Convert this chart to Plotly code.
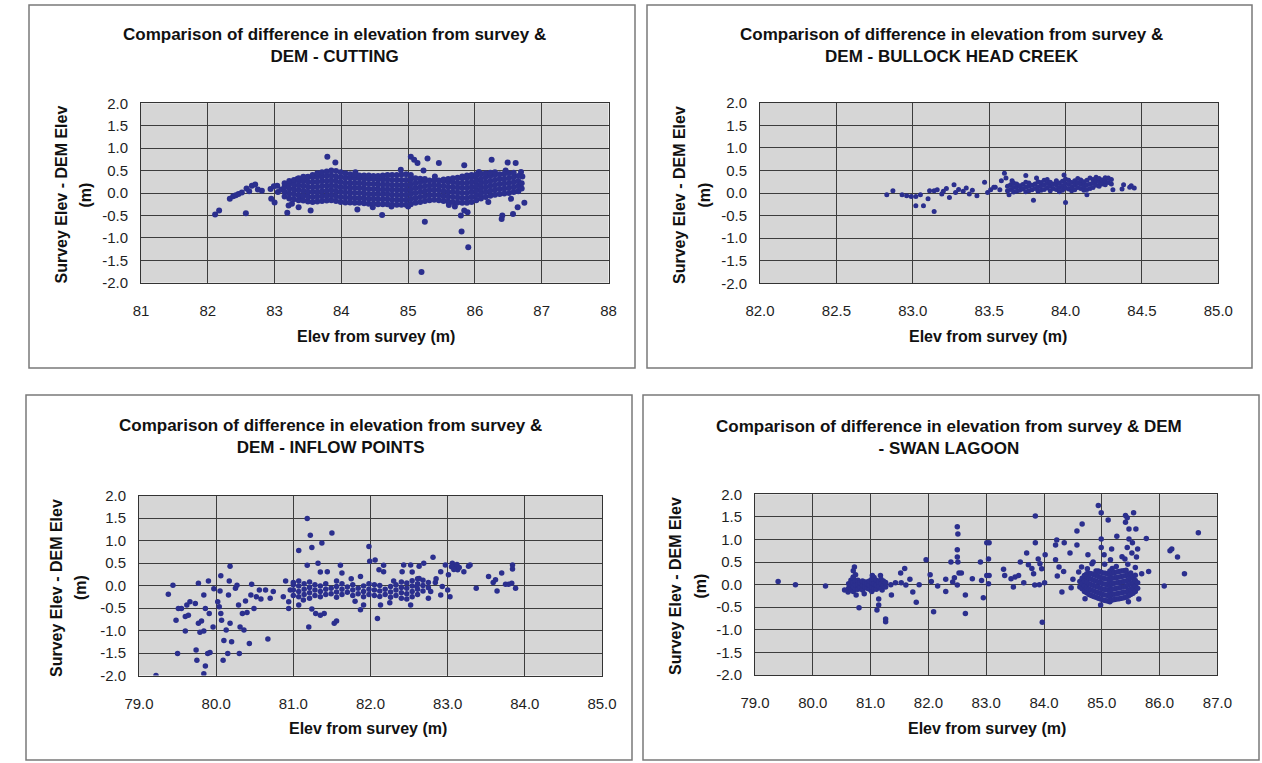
import plotly.graph_objects as go

# ---------------- data ----------------
y_tick_vals = [-2.0, -1.5, -1.0, -0.5, 0.0, 0.5, 1.0, 1.5, 2.0]
y_tick_text = ["-2.0", "-1.5", "-1.0", "-0.5", "0.0", "0.5", "1.0", "1.5", "2.0"]

cut_ticks = [81, 82, 83, 84, 85, 86, 87, 88]
cut_tick_text = ["81", "82", "83", "84", "85", "86", "87", "88"]
bul_ticks = [82.0, 82.5, 83.0, 83.5, 84.0, 84.5, 85.0]
bul_tick_text = ["82.0", "82.5", "83.0", "83.5", "84.0", "84.5", "85.0"]
inf_ticks = [79, 80, 81, 82, 83, 84, 85]
inf_tick_text = ["79.0", "80.0", "81.0", "82.0", "83.0", "84.0", "85.0"]
swa_ticks = [79, 80, 81, 82, 83, 84, 85, 86, 87]
swa_tick_text = ["79.0", "80.0", "81.0", "82.0", "83.0", "84.0", "85.0", "86.0", "87.0"]

titles = [
    "Comparison of difference in elevation from survey &<br>DEM - CUTTING",
    "Comparison of difference in elevation from survey &<br>DEM - BULLOCK HEAD CREEK",
    "Comparison of difference in elevation from survey &<br>DEM - INFLOW POINTS",
    "Comparison of difference in elevation from survey & DEM<br>- SWAN LAGOON",
]
x_title = "Elev from survey (m)"
y_title_line1 = "Survey Elev - DEM Elev"
y_title_line2 = "(m)"

# CUTTING: scattered points (elev, diff)
cut_points = [
    (82.11, -0.48), (82.17, -0.39), (82.57, -0.45), (82.33, -0.13), (82.38, -0.07),
    (82.42, -0.05), (82.46, -0.02), (82.51, 0.01), (82.58, 0.10), (82.62, 0.04),
    (82.66, 0.16), (82.71, 0.19), (82.81, 0.05), (82.75, 0.08), (82.94, 0.09),
    (82.99, 0.15), (83.04, 0.16), (82.95, -0.13), (83.00, -0.21), (83.19, -0.44),
    (83.21, -0.28), (83.26, -0.24), (83.36, -0.32), (83.39, -0.10), (83.54, -0.39),
    (83.79, 0.81), (83.91, 0.68), (84.24, -0.37), (84.47, -0.32), (83.34, 0.31),
    (83.49, 0.35), (83.64, 0.42), (84.21, 0.46), (83.05, 0.02), (83.10, 0.08),
    (85.04, 0.81), (85.09, 0.74), (85.14, 0.67), (85.29, 0.77), (85.46, 0.67),
    (85.84, 0.62), (86.25, 0.74), (86.49, 0.68), (86.61, 0.67), (86.69, 0.47),
    (86.71, 0.37), (86.74, -0.22), (86.64, -0.32), (86.57, -0.47), (86.41, -0.50),
    (86.40, -0.58), (86.54, -0.13), (85.25, -0.64), (84.61, -0.49), (85.80, -0.86),
    (85.90, -1.21), (85.20, -1.76), (85.79, -0.50), (85.84, -0.39), (85.89, -0.43),
    (85.61, -0.27), (85.40, 0.37), (84.89, 0.52), (85.23, 0.50), (86.06, 0.47),
    (86.46, 0.50), (84.75, -0.30), (85.00, -0.30), (85.70, -0.30), (86.20, -0.20),
]
# CUTTING: dense band, read column by column (elev, [diffs])
cut_band = [
    (83.15, [-0.08, 0.03, 0.14, 0.22]),
    (83.22, [-0.12, -0.01, 0.10, 0.20, 0.27]),
    (83.29, [-0.14, -0.03, 0.08, 0.19, 0.29]),
    (83.36, [-0.16, -0.05, 0.06, 0.17, 0.27, 0.33]),
    (83.43, [-0.17, -0.06, 0.05, 0.16, 0.27, 0.36]),
    (83.50, [-0.19, -0.08, 0.03, 0.14, 0.25, 0.36]),
    (83.57, [-0.20, -0.09, 0.02, 0.13, 0.24, 0.35, 0.40]),
    (83.64, [-0.19, -0.08, 0.03, 0.14, 0.25, 0.36, 0.44]),
    (83.71, [-0.18, -0.07, 0.04, 0.15, 0.26, 0.37, 0.46]),
    (83.78, [-0.17, -0.06, 0.05, 0.16, 0.27, 0.38, 0.48]),
    (83.85, [-0.16, -0.05, 0.06, 0.17, 0.28, 0.39, 0.50]),
    (83.92, [-0.18, -0.07, 0.04, 0.15, 0.26, 0.37, 0.49]),
    (83.99, [-0.20, -0.09, 0.02, 0.13, 0.24, 0.35, 0.46]),
    (84.06, [-0.21, -0.10, 0.01, 0.12, 0.23, 0.34, 0.44]),
    (84.13, [-0.21, -0.10, 0.01, 0.12, 0.23, 0.34, 0.42]),
    (84.20, [-0.22, -0.11, 0.00, 0.11, 0.22, 0.33, 0.40]),
    (84.27, [-0.22, -0.11, 0.00, 0.11, 0.22, 0.33, 0.39]),
    (84.34, [-0.23, -0.12, -0.01, 0.10, 0.21, 0.32, 0.39]),
    (84.41, [-0.24, -0.13, -0.02, 0.09, 0.20, 0.31, 0.39]),
    (84.48, [-0.24, -0.13, -0.02, 0.09, 0.20, 0.31, 0.38]),
    (84.55, [-0.25, -0.14, -0.03, 0.08, 0.19, 0.30, 0.38]),
    (84.62, [-0.25, -0.14, -0.03, 0.08, 0.19, 0.30, 0.39]),
    (84.69, [-0.25, -0.14, -0.03, 0.08, 0.19, 0.30, 0.40]),
    (84.76, [-0.26, -0.15, -0.04, 0.07, 0.18, 0.29, 0.40]),
    (84.83, [-0.26, -0.15, -0.04, 0.07, 0.18, 0.29, 0.40]),
    (84.90, [-0.26, -0.15, -0.04, 0.07, 0.18, 0.29, 0.41]),
    (84.97, [-0.26, -0.15, -0.04, 0.07, 0.18, 0.29, 0.42]),
    (85.04, [-0.25, -0.14, -0.03, 0.08, 0.19, 0.30, 0.40]),
    (85.11, [-0.22, -0.11, 0.00, 0.11, 0.22, 0.33]),
    (85.18, [-0.20, -0.09, 0.02, 0.13, 0.24, 0.32]),
    (85.25, [-0.18, -0.07, 0.04, 0.15, 0.26, 0.31]),
    (85.32, [-0.16, -0.05, 0.06, 0.17, 0.28]),
    (85.39, [-0.15, -0.04, 0.07, 0.18, 0.28]),
    (85.46, [-0.16, -0.05, 0.06, 0.17, 0.28]),
    (85.53, [-0.18, -0.07, 0.04, 0.15, 0.26, 0.30]),
    (85.60, [-0.19, -0.08, 0.03, 0.14, 0.25, 0.31]),
    (85.67, [-0.20, -0.09, 0.02, 0.13, 0.24, 0.33]),
    (85.74, [-0.21, -0.10, 0.01, 0.12, 0.23, 0.34]),
    (85.81, [-0.22, -0.11, 0.00, 0.11, 0.22, 0.33, 0.37]),
    (85.88, [-0.22, -0.11, 0.00, 0.11, 0.22, 0.33, 0.39]),
    (85.95, [-0.20, -0.09, 0.02, 0.13, 0.24, 0.35, 0.40]),
    (86.02, [-0.16, -0.05, 0.06, 0.17, 0.28, 0.39, 0.42]),
    (86.09, [-0.12, -0.01, 0.10, 0.21, 0.32, 0.43]),
    (86.16, [-0.09, 0.02, 0.13, 0.24, 0.35, 0.44]),
    (86.23, [-0.06, 0.05, 0.16, 0.27, 0.38, 0.45]),
    (86.30, [-0.04, 0.07, 0.18, 0.29, 0.40, 0.46]),
    (86.37, [-0.02, 0.09, 0.20, 0.31, 0.42]),
    (86.44, [-0.01, 0.10, 0.21, 0.32, 0.43]),
    (86.51, [0.00, 0.11, 0.22, 0.33, 0.44]),
    (86.58, [0.02, 0.13, 0.24, 0.35, 0.45]),
    (86.65, [0.04, 0.15, 0.26, 0.38]),
    (86.70, [0.10, 0.22]),
]

# BULLOCK HEAD CREEK
bul_points = [
    (82.83, -0.04), (82.87, 0.05), (82.93, -0.04), (82.96, -0.06), (82.99, -0.08),
    (83.02, -0.08), (83.05, -0.04), (83.02, -0.28), (83.07, -0.28), (83.14, -0.41),
    (83.10, -0.13), (83.11, 0.05), (83.14, 0.05), (83.16, 0.07), (83.19, -0.02),
    (83.22, 0.10), (83.24, -0.10), (83.27, 0.18), (83.28, 0.01), (83.30, 0.08),
    (83.35, 0.11), (83.37, -0.02), (83.42, -0.06), (83.47, 0.24), (83.49, 0.01),
    (83.53, 0.13), (83.51, 0.07), (83.54, 0.13), (83.57, 0.07), (83.60, 0.44),
    (83.61, 0.33), (83.58, 0.27), (83.63, -0.04), (83.65, 0.27), (83.74, 0.39),
    (83.79, -0.16), (83.81, 0.33), (83.99, 0.40), (84.00, -0.21), (84.14, -0.04),
    (84.31, 0.07), (84.37, 0.09), (84.42, 0.13), (84.45, 0.11), (84.43, 0.16),
    (84.38, 0.18), (83.33, 0.04), (83.39, 0.06), (83.20, 0.04),
]
bul_band = [
    (83.62, [0.05, 0.15]),
    (83.64, [0.08, 0.18]),
    (83.66, [0.02, 0.12, 0.22]),
    (83.68, [0.04, 0.14, 0.20]),
    (83.70, [0.06, 0.16]),
    (83.72, [0.09, 0.19]),
    (83.74, [0.03, 0.13, 0.24]),
    (83.76, [0.05, 0.15, 0.22]),
    (83.78, [0.07, 0.17]),
    (83.80, [0.10, 0.20]),
    (83.82, [0.04, 0.14, 0.25]),
    (83.84, [0.06, 0.16, 0.23]),
    (83.86, [0.08, 0.18, 0.28]),
    (83.88, [0.11, 0.21, 0.30]),
    (83.90, [0.05, 0.15, 0.24]),
    (83.92, [0.10, 0.20]),
    (83.94, [0.08, 0.18, 0.27]),
    (83.96, [0.03, 0.12, 0.22]),
    (83.98, [0.06, 0.16, 0.26]),
    (84.00, [0.11, 0.21, 0.31]),
    (84.02, [0.09, 0.19, 0.28]),
    (84.04, [0.05, 0.13, 0.23]),
    (84.06, [0.07, 0.17, 0.27]),
    (84.08, [0.12, 0.22, 0.32]),
    (84.10, [0.10, 0.20, 0.29]),
    (84.12, [0.06, 0.15, 0.25]),
    (84.14, [0.08, 0.18, 0.28]),
    (84.16, [0.10, 0.20, 0.33]),
    (84.18, [0.12, 0.22, 0.30]),
    (84.20, [0.17, 0.27, 0.35]),
    (84.22, [0.15, 0.25, 0.32]),
    (84.24, [0.20, 0.29]),
    (84.26, [0.18, 0.27, 0.34]),
    (84.28, [0.23, 0.33]),
    (84.30, [0.20, 0.30]),
]

# INFLOW POINTS
inf_points = [
    (79.22, -2.00), (79.38, -0.19), (79.44, 0.01), (79.51, -0.51), (79.48, -0.77),
    (79.60, -1.01), (79.50, -1.51), (79.55, -0.51), (79.62, -0.43), (79.66, -0.36),
    (79.60, -0.69), (79.64, -0.66), (79.73, -0.40), (79.77, 0.05), (79.77, -0.84),
    (79.81, -0.79), (79.79, -1.04), (79.84, -1.01), (79.74, -1.43), (79.75, -1.66),
    (79.86, -1.79), (79.84, -1.96), (79.90, 0.10), (79.89, -1.51), (79.92, -1.49),
    (79.84, -0.21), (79.86, -0.51), (79.91, -0.62), (79.97, -0.07), (79.96, -0.92),
    (80.02, -0.36), (80.04, -0.47), (80.06, -0.62), (80.07, -0.77), (80.06, 0.22),
    (80.05, -0.12), (80.13, -0.99), (80.10, -1.22), (80.09, -1.66), (80.15, -1.51),
    (80.18, 0.43), (80.17, 0.10), (80.16, -0.21), (80.20, -1.25), (80.18, -0.84),
    (80.25, -0.06), (80.27, 0.01), (80.29, -0.43), (80.30, -1.51), (80.31, -0.92),
    (80.36, -0.99), (80.34, -0.62), (80.38, -0.34), (80.40, -0.60), (80.43, -1.29),
    (80.45, -0.21), (80.46, 0.03), (80.49, -0.51), (80.52, -0.25), (80.56, -0.10),
    (80.58, -0.30), (80.64, -0.10), (80.67, -1.19), (80.70, -0.28), (80.74, -0.13),
    (80.87, -0.25), (80.90, 0.10), (80.94, -0.51), (80.96, -0.10), (81.00, 0.07),
    (81.07, 0.78), (81.18, 1.49), (81.22, 1.12), (81.24, 0.85), (81.18, 0.45),
    (81.32, 0.50), (81.37, 0.95), (81.50, 1.17), (81.35, 0.30), (81.44, 0.31),
    (81.61, 0.45), (81.63, 0.28), (81.56, -0.79), (81.53, -0.84), (81.40, -0.62),
    (81.35, -0.66), (81.29, -0.62), (81.24, -0.52), (81.20, -0.92), (81.13, -0.32),
    (81.07, -0.43), (80.94, -0.36), (81.87, 0.20), (81.98, 0.87), (81.99, 0.54),
    (81.87, -0.54), (81.91, -0.43), (82.09, -0.73), (82.06, 0.57), (82.17, 0.45),
    (82.17, 0.31), (82.11, 0.35), (82.41, 0.31), (82.43, 0.46), (82.52, 0.46),
    (82.54, 0.30), (82.63, 0.43), (82.69, 0.50), (82.81, 0.63), (82.91, 0.31),
    (82.97, 0.46), (83.01, 0.24), (83.06, 0.50), (83.10, 0.43), (83.13, 0.35),
    (83.05, 0.42), (83.08, 0.36), (83.12, 0.47), (83.15, 0.40), (83.21, 0.31),
    (83.27, 0.43), (83.29, 0.46), (83.03, -0.25), (83.00, -0.10), (82.93, -0.02),
    (82.84, 0.07), (82.91, -0.21), (82.78, -0.13), (82.75, -0.28), (82.63, 0.16),
    (82.60, -0.02), (82.52, -0.43), (82.13, -0.43), (83.37, -0.06), (83.53, 0.20),
    (83.59, 0.07), (83.62, 0.13), (83.64, -0.12), (83.70, 0.28), (83.75, 0.03),
    (83.79, 0.03), (83.83, 0.05), (83.84, 0.46), (83.84, 0.37), (83.88, -0.06),
    (81.75, 0.15), (82.30, 0.10), (82.85, 0.15), (81.80, -0.35), (82.25, -0.38),
]
inf_band = [
    (81.00, [-0.22, -0.10, 0.02]),
    (81.07, [-0.25, -0.13, -0.01, 0.10]),
    (81.14, [-0.20, -0.08, 0.04]),
    (81.21, [-0.28, -0.16, -0.04, 0.08]),
    (81.28, [-0.22, -0.10, 0.02]),
    (81.35, [-0.25, -0.13, -0.01]),
    (81.42, [-0.20, -0.08, 0.04]),
    (81.49, [-0.18, -0.06]),
    (81.56, [-0.26, -0.14, -0.02, 0.10]),
    (81.63, [-0.20, -0.08, 0.04]),
    (81.70, [-0.15, -0.03]),
    (81.77, [-0.22, -0.10, 0.02]),
    (81.84, [-0.18, -0.06]),
    (81.91, [-0.25, -0.13, -0.01]),
    (81.98, [-0.20, -0.08, 0.04]),
    (82.05, [-0.22, -0.10, 0.02]),
    (82.12, [-0.24, -0.12, 0.00]),
    (82.19, [-0.20, -0.08]),
    (82.26, [-0.26, -0.14, -0.02]),
    (82.33, [-0.22, -0.10, 0.02]),
    (82.40, [-0.28, -0.16, -0.04, 0.08]),
    (82.47, [-0.30, -0.18, -0.06, 0.06]),
    (82.54, [-0.25, -0.13, -0.01, 0.11]),
    (82.61, [-0.20, -0.08, 0.04, 0.15]),
    (82.68, [-0.12, 0.00, 0.12]),
    (82.75, [-0.05, 0.07]),
]

# SWAN LAGOON
swa_points = [
    (79.40, 0.07), (79.70, 0.00), (80.22, -0.03), (80.55, -0.12), (80.61, -0.16),
    (80.67, -0.05), (80.70, 0.17), (80.72, 0.39), (80.70, 0.31), (80.72, 0.06),
    (80.75, -0.23), (80.80, -0.51), (80.78, -0.09), (80.86, 0.02), (80.89, -0.20),
    (80.94, 0.06), (81.03, 0.20), (81.06, 0.04), (81.03, -0.12), (81.11, -0.56),
    (81.14, -0.45), (81.14, -0.32), (81.17, 0.20), (81.17, 0.04), (81.20, -0.12),
    (81.26, -0.76), (81.26, -0.82), (81.35, 0.00), (81.36, -0.23), (81.43, 0.04),
    (81.52, 0.26), (81.59, 0.36), (81.53, 0.04), (81.61, -0.01), (81.68, 0.12),
    (81.73, -0.16), (81.79, -0.39), (81.84, 0.00), (81.96, 0.55), (82.03, 0.22),
    (82.05, 0.07), (82.09, -0.60), (82.16, -0.03), (82.30, 0.12), (82.30, -0.15),
    (82.39, 0.50), (82.42, 0.06), (82.45, 0.15), (82.50, 1.28), (82.51, 1.12),
    (82.50, 0.77), (82.50, 0.61), (82.51, 0.50), (82.53, 0.26), (82.50, -0.01),
    (82.57, 0.26), (82.64, -0.23), (82.64, -0.64), (82.76, 0.13), (82.90, 0.50),
    (82.95, -0.29), (82.92, 0.09), (83.01, 0.93), (83.01, 0.20), (83.05, 0.93),
    (83.04, 0.57), (83.05, 0.20), (83.04, 0.02), (83.30, 0.34), (83.32, 0.20),
    (83.43, 0.13), (83.50, 0.17), (83.47, -0.05), (83.56, 0.20), (83.65, 0.04),
    (83.59, 0.50), (83.70, 0.70), (83.73, 0.44), (83.79, 0.36), (83.85, 1.52),
    (83.85, 0.93), (83.82, 0.24), (83.90, 0.57), (83.93, 0.46), (83.96, 0.35),
    (83.97, -0.83), (84.02, 0.66), (83.84, -0.01), (83.92, 0.00), (84.01, 0.04),
    (84.20, 0.88), (84.22, 0.99), (84.35, 0.93), (84.20, 0.55), (84.26, 0.39),
    (84.23, 0.19), (84.31, -0.16), (84.34, 0.29), (84.45, 0.70), (84.57, 0.88),
    (84.57, 1.19), (84.66, 1.34), (84.47, -0.07), (84.65, 0.39), (84.71, -0.31),
    (84.76, 0.66), (84.83, 0.46), (84.94, 1.75), (84.99, 1.59), (84.99, 1.01),
    (84.99, 0.82), (85.11, 1.43), (85.26, 1.07), (85.17, 0.79), (85.04, 0.66),
    (85.41, 1.53), (85.44, 1.48), (85.55, 1.59), (85.41, 1.38), (85.47, 1.23),
    (85.59, 1.23), (85.47, 1.01), (85.53, 0.93), (85.44, 0.82), (85.62, 0.79),
    (85.77, 1.02), (85.40, 0.57), (85.60, 0.61), (85.69, 0.24), (85.81, 0.29),
    (85.64, -0.32), (85.46, -0.38), (86.18, 0.75), (86.21, 0.79), (86.31, 0.61),
    (86.43, 0.24), (86.67, 1.15), (86.08, -0.03), (84.98, -0.45), (84.75, 0.35),
    (84.85, 0.50), (84.90, 0.30), (85.05, 0.45), (85.15, 0.55), (85.25, 0.40),
    (85.35, 0.62), (85.45, 0.45), (85.52, 0.70), (85.58, 0.38), (84.60, 0.28),
    (84.50, 0.12),
]
swa_band = [
    (80.62, [-0.08, 0.02]),
    (80.66, [-0.12, 0.00, 0.10]),
    (80.70, [-0.15, -0.05, 0.05, 0.15]),
    (80.74, [-0.10, 0.00, 0.08, 0.22]),
    (80.78, [-0.10, 0.00, 0.10]),
    (80.82, [-0.06, 0.05]),
    (80.86, [-0.12, -0.02, 0.08]),
    (80.90, [-0.04, 0.06]),
    (80.94, [-0.08, 0.02]),
    (80.98, [-0.10, 0.00, 0.08]),
    (81.02, [-0.15, -0.05, 0.05, 0.12]),
    (81.06, [-0.08, 0.02, 0.16]),
    (81.10, [-0.10, 0.00, 0.10]),
    (81.14, [-0.04, 0.06]),
    (81.18, [-0.08, 0.02, 0.12]),
    (81.22, [-0.02, 0.08]),
    (81.26, [-0.05, 0.05]),
    (84.62, [-0.05, 0.07]),
    (84.66, [-0.09, 0.03, 0.14]),
    (84.70, [-0.15, -0.03, 0.09, 0.20]),
    (84.74, [-0.18, -0.06, 0.06, 0.18, 0.24]),
    (84.78, [-0.22, -0.10, 0.02, 0.14, 0.25]),
    (84.82, [-0.24, -0.12, 0.00, 0.12, 0.24]),
    (84.86, [-0.26, -0.14, -0.02, 0.10, 0.22]),
    (84.90, [-0.28, -0.16, -0.04, 0.08, 0.20, 0.26]),
    (84.94, [-0.30, -0.18, -0.06, 0.06, 0.18, 0.30]),
    (84.98, [-0.32, -0.20, -0.08, 0.04, 0.16, 0.28]),
    (85.02, [-0.34, -0.22, -0.10, 0.02, 0.14, 0.26]),
    (85.06, [-0.35, -0.23, -0.11, 0.01, 0.13, 0.25]),
    (85.10, [-0.36, -0.24, -0.12, 0.00, 0.12, 0.24]),
    (85.14, [-0.38, -0.28, -0.16, -0.04, 0.08, 0.20, 0.30]),
    (85.18, [-0.34, -0.22, -0.10, 0.02, 0.14, 0.26, 0.36]),
    (85.22, [-0.33, -0.21, -0.09, 0.03, 0.15, 0.27]),
    (85.26, [-0.32, -0.20, -0.08, 0.04, 0.16, 0.28]),
    (85.30, [-0.31, -0.19, -0.07, 0.05, 0.17, 0.29]),
    (85.34, [-0.30, -0.18, -0.06, 0.06, 0.18, 0.30]),
    (85.38, [-0.29, -0.17, -0.05, 0.07, 0.19, 0.31]),
    (85.42, [-0.28, -0.16, -0.04, 0.08, 0.20, 0.32]),
    (85.46, [-0.25, -0.13, -0.01, 0.11, 0.23]),
    (85.50, [-0.22, -0.10, 0.02, 0.14, 0.26]),
    (85.54, [-0.19, -0.07, 0.05, 0.17]),
    (85.58, [-0.15, -0.03, 0.09, 0.21]),
    (85.62, [-0.08, 0.04]),
]

# ---------------- build figure ----------------
W, H = 1262, 763
MARKER = "#2b2f8e"
FONT = "Liberation Sans, Arial, sans-serif"


def px_x(v):
    return v / W


def px_y(v):
    return 1 - v / H


def flatten(points, band):
    xs = [p[0] for p in points]
    ys = [p[1] for p in points]
    for x, col in band:
        for y in col:
            xs.append(x)
            ys.append(y)
    return xs, ys


panels = [
    dict(pts=cut_points, band=cut_band, xr=[81, 88], tv=cut_ticks, tt=cut_tick_text,
         area=(141, 608.5, 103.3, 282.7), box=(29, 635, 5, 368), title_c=(334, 46),
         yt_x=(60.5, 84.6), yt_y=195, xt=(376, 336.7), msize=6),
    dict(pts=bul_points, band=bul_band, xr=[82, 85], tv=bul_ticks, tt=bul_tick_text,
         area=(760, 1218.3, 102.7, 283.3), box=(647, 1252, 5, 368), title_c=(951, 45.5),
         yt_x=(679, 703.6), yt_y=195, xt=(988, 336.7), msize=5),
    dict(pts=inf_points, band=inf_band, xr=[79, 85], tv=inf_ticks, tt=inf_tick_text,
         area=(139, 602, 495.7, 675.5), box=(26, 632, 395, 760), title_c=(330, 436.5),
         yt_x=(56, 80), yt_y=588, xt=(368, 728.3), msize=5.5),
    dict(pts=swa_points, band=swa_band, xr=[79, 87], tv=swa_ticks, tt=swa_tick_text,
         area=(755, 1217.4, 494.3, 675), box=(643, 1259, 395, 760), title_c=(949, 437.5),
         yt_x=(675, 699.5), yt_y=586, xt=(987, 728.3), msize=5.5),
]

fig = go.Figure()
layout = dict(
    width=W, height=H,
    margin=dict(l=0, r=0, t=0, b=0),
    paper_bgcolor="white",
    plot_bgcolor="#d6d6d6",
    showlegend=False,
    font=dict(family=FONT, color="#1a1a1a"),
    shapes=[], annotations=[],
)

for i, p in enumerate(panels, start=1):
    xs, ys = flatten(p["pts"], p["band"])
    suffix = "" if i == 1 else str(i)
    fig.add_trace(go.Scatter(
        x=xs, y=ys, mode="markers", xaxis="x" + suffix, yaxis="y" + suffix,
        marker=dict(size=p["msize"], color=MARKER, line=dict(width=0)),
        hoverinfo="x+y",
    ))
    x0, x1, y0, y1 = p["area"]
    common = dict(showgrid=True, gridcolor="#3d3d3d", gridwidth=1, zeroline=False,
                  showline=True, linecolor="#333333", linewidth=1, mirror=True,
                  ticks="", automargin=False,
                  tickfont=dict(size=15, family=FONT, color="#1f1f1f"))
    layout["xaxis" + suffix] = dict(
        domain=[px_x(x0), px_x(x1)], range=p["xr"], tickvals=p["tv"], ticktext=p["tt"],
        anchor="y" + suffix, ticklabelstandoff=14, **common)
    layout["yaxis" + suffix] = dict(
        domain=[px_y(y1), px_y(y0)], range=[-2, 2], tickvals=y_tick_vals,
        ticktext=y_tick_text, anchor="x" + suffix, ticklabelstandoff=9, **common)

    bx0, bx1, by0, by1 = p["box"]
    layout["shapes"].append(dict(
        type="rect", xref="paper", yref="paper",
        x0=px_x(bx0), x1=px_x(bx1), y0=px_y(by1), y1=px_y(by0),
        line=dict(color="#7a7a7a", width=1.5), fillcolor="rgba(0,0,0,0)", layer="below"))

    tcx, tcy = p["title_c"]
    layout["annotations"].append(dict(
        text="<b>" + titles[i - 1].replace("<br>", "</b><br><b>") + "</b>",
        xref="paper", yref="paper", x=px_x(tcx), y=px_y(tcy),
        xanchor="center", yanchor="middle", showarrow=False,
        font=dict(size=17, family=FONT, color="#111111")))
    xtx, xty = p["xt"]
    layout["annotations"].append(dict(
        text="<b>" + x_title + "</b>", xref="paper", yref="paper",
        x=px_x(xtx), y=px_y(xty), xanchor="center", yanchor="middle",
        showarrow=False, font=dict(size=16, family=FONT, color="#111111")))
    for line_text, lx in zip([y_title_line1, y_title_line2], p["yt_x"]):
        layout["annotations"].append(dict(
            text="<b>" + line_text + "</b>", xref="paper", yref="paper",
            x=px_x(lx), y=px_y(p["yt_y"]), xanchor="center", yanchor="middle",
            textangle=-90, showarrow=False,
            font=dict(size=16, family=FONT, color="#111111")))

fig.update_layout(**layout)
# the page's default 8px body margin would shift the figure; remove it
fig.write_html("out.html", config={"displayModeBar": False},
               post_script="document.body.style.margin='0px';")
